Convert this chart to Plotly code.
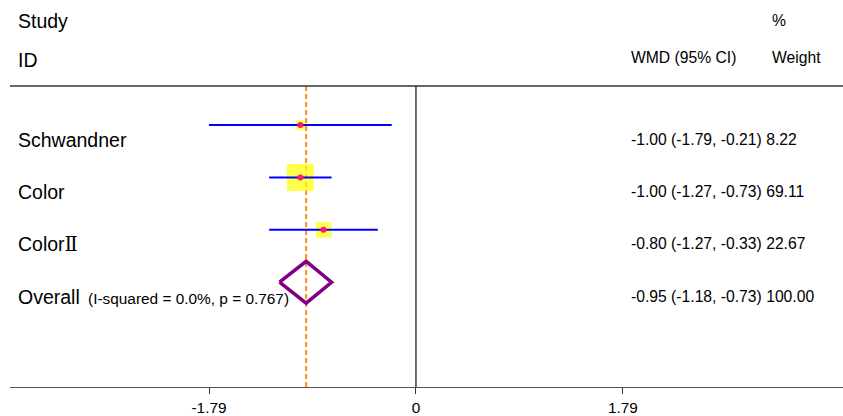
import math
import plotly.graph_objects as go

# ---- data ----
studies = ["Schwandner", "Color", "Color<span style=\"font-family:'DejaVu Serif'\">\u2161</span>"]
wmd = [-1.00, -1.00, -0.80]
ci_lo = [-1.79, -1.27, -1.27]
ci_hi = [-0.21, -0.73, -0.33]
weights = [8.22, 69.11, 22.67]

overall_label = "Overall"
overall_het = "(I-squared = 0.0%, p = 0.767)"
overall_wmd = -0.95
overall_lo = -1.18
overall_hi = -0.73
overall_weight = 100.00

tick_vals = [-1.79, 0, 1.79]
tick_text = ["-1.79", "0", "1.79"]

FONT = "Liberation Sans, Arial, Helvetica, sans-serif"

rows = list(range(1, len(studies) + 1))
overall_row = len(studies) + 1

fig = go.Figure()

# squares (area proportional to weight)
max_w = max(weights)
sizes = [27 * math.sqrt(w / max_w) for w in weights]
fig.add_trace(go.Scatter(
    x=wmd, y=rows, mode="markers",
    marker=dict(symbol="square", size=sizes, color="#FFFF00", line=dict(width=0)),
    hoverinfo="skip"))

# CI lines
for r, lo, hi in zip(rows, ci_lo, ci_hi):
    fig.add_trace(go.Scatter(
        x=[lo, hi], y=[r, r], mode="lines",
        line=dict(color="#0000FF", width=2), hoverinfo="skip"))

# point estimates
fig.add_trace(go.Scatter(
    x=wmd, y=rows, mode="markers",
    marker=dict(symbol="circle", size=6, color="#FF1A6E", line=dict(width=0)),
    hoverinfo="skip"))

# overall diamond
h = 0.4
fig.add_trace(go.Scatter(
    x=[overall_lo, overall_wmd, overall_hi, overall_wmd, overall_lo],
    y=[overall_row, overall_row - h, overall_row, overall_row + h, overall_row],
    mode="lines", line=dict(color="#800080", width=3.5), hoverinfo="skip"))

shapes = [
    # dashed overall line
    dict(type="line", xref="x", yref="paper", x0=overall_wmd, x1=overall_wmd, y0=0, y1=1,
         line=dict(color="#FF8C1A", width=2, dash="5px,3px"), layer="below"),
    # null line
    dict(type="line", xref="x", yref="paper", x0=0, x1=0, y0=0, y1=1,
         line=dict(color="#222222", width=1.3), layer="below"),
    # top rule
    dict(type="line", xref="paper", yref="paper", x0=0, x1=1, y0=1, y1=1,
         line=dict(color="#333333", width=1.3)),
]

annotations = []
def txt(x, y, s, size, xref="x", yref="y", yshift=0):
    annotations.append(dict(x=x, y=y, xref=xref, yref=yref, text=s, showarrow=False,
                            xanchor="left", yanchor="middle", yshift=yshift,
                            font=dict(family=FONT, size=size, color="#000000")))

LEFT_X = -3.46
RIGHT_X = 1.845
WEIGHT_X = 3.06
RSIZE = 15.7

# headers
txt(LEFT_X, 1.216, "Study", 19.5, yref="paper")
txt(LEFT_X, 1.086, "ID", 19.5, yref="paper")
txt(WEIGHT_X, 1.219, "%", RSIZE, yref="paper")
txt(RIGHT_X, 1.096, "WMD (95% CI)", RSIZE, yref="paper")
txt(WEIGHT_X, 1.096, "Weight", RSIZE, yref="paper")

# study rows
for r, s, e, lo, hi, w in zip(rows, studies, wmd, ci_lo, ci_hi, weights):
    txt(LEFT_X, r, s, 19.5, yshift=-15)
    txt(RIGHT_X, r, f"{e:.2f} ({lo:.2f}, {hi:.2f}) {w:.2f}", RSIZE, yshift=-14)

# overall row
txt(LEFT_X, overall_row, overall_label, 19.5, yshift=-15)
txt(-2.855, overall_row, overall_het, 15.4, yshift=-16)
txt(RIGHT_X, overall_row,
    f"{overall_wmd:.2f} ({overall_lo:.2f}, {overall_hi:.2f}) {overall_weight:.2f}", RSIZE, yshift=-14)

fig.update_layout(
    width=843, height=416,
    margin=dict(l=10, r=0, t=86, b=29),
    paper_bgcolor="white", plot_bgcolor="white",
    showlegend=False,
    shapes=shapes, annotations=annotations,
    xaxis=dict(range=[-3.511, 3.693], tickvals=tick_vals, ticktext=tick_text,
               showgrid=False, zeroline=False, showline=True, linecolor="#555555", linewidth=1.3,
               ticks="outside", ticklen=6, tickcolor="#333333", tickwidth=1.3,
               tickfont=dict(family=FONT, size=15.4, color="#000000"), fixedrange=True),
    yaxis=dict(range=[6.0, 0.254], visible=False, fixedrange=True),
)

fig.write_html(
    "out.html",
    config={"displayModeBar": False},
    post_script="document.body.style.margin='0';document.body.style.overflow='hidden';",
)
